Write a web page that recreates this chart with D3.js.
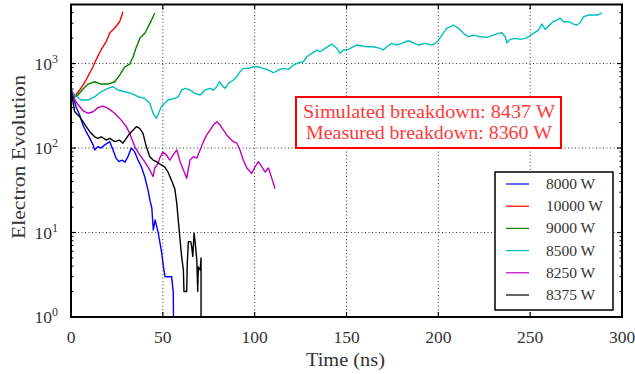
<!DOCTYPE html>
<html>
<head>
<meta charset="utf-8">
<script src="https://cdn.jsdelivr.net/npm/d3@7"></script>
<style>
	body { margin: 0; background: #fff; }
	svg text { font-family: "Liberation Serif", "DejaVu Serif", serif; }
</style>
</head>
<body>
<div id="chart"></div>
<script>
"use strict";

// time (ns) and electron counts
const t8000 = [0, 2.7, 4.7, 6.5, 8.2, 10.2, 12.0, 12.9, 14.7, 16.3, 18.4, 21.1, 22.9, 24.5, 26.1, 27.8, 29.4, 31.0, 32.8, 34.7, 36.5, 38.3, 40.1, 41.9, 43.0, 44.0, 44.8, 45.8, 47.5, 49.4, 50.3, 51.2, 54.8, 55.7, 55.8];
const v8000 = [513, 308, 246, 187, 156, 131, 109, 95, 104, 100, 109, 119, 95, 76, 69, 72, 68, 79, 100, 90, 72, 60, 46, 32, 24, 19.5, 10.7, 14.1, 9.9, 5.7, 3.94, 3.0, 3.0, 1.92, 1];

const t10000 = [0, 2.0, 4.7, 6.5, 8.2, 10.2, 12.0, 13.6, 16.3, 19.1, 21.1, 23.8, 26.5, 28.3];
const v10000 = [486, 405, 486, 557, 638, 772, 917, 1099, 1445, 1811, 2296, 2632, 3126, 4104];

const t9000 = [0, 2.0, 3.8, 6.5, 9.3, 12.9, 16.3, 20.2, 23.8, 26.5, 29.2, 32.0, 33.8, 35.4, 37.6, 40.3, 41.9, 43.6, 45.6];
const v9000 = [486, 405, 424, 499, 572, 609, 572, 572, 609, 731, 910, 987, 1194, 1525, 2004, 2296, 2704, 3184, 3963];

const t8500 = [0, 2.0, 5.6, 9.3, 12.9, 16.5, 20.2, 22.9, 25.6, 29.2, 32.8, 36.5, 40.1, 42.9, 44.7, 46.5, 49.2, 52.8, 56.5, 58.4,
	60.3, 62.1, 64.8, 67.5, 70.3, 73.0, 75.7, 77.5, 79.4, 80.8, 82.1, 83.9, 85.7, 88.4, 90.3, 92.0, 93.8, 96.6, 99.3, 102.0,
	104.7, 107.5, 110.2, 112.9, 115.6, 118.4, 121.1, 123.8, 126.5, 128.4, 131.1, 133.8, 135.6, 138.3, 142.0, 144.7, 146.5, 148.3, 151.0, 153.8,
	155.6, 158.3, 161.1, 164.7, 168.3, 170.1, 171.9, 174.7, 177.4, 180.1, 183.7, 186.4, 189.2, 192.8, 196.5, 199.5, 201.9, 204.6, 208.2, 211.0,
	213.7, 216.4, 219.1, 222.8, 226.4, 230.0, 232.7, 234.6, 236.4, 237.3, 239.1, 241.8, 244.6, 247.3, 249.6, 251.8, 254.5, 256.4, 258.2, 260.0,
	262.4, 264.5, 266.3, 268.1, 270.9, 273.6, 275.4, 277.2, 279.0, 281.8, 284.5, 286.7, 289.0];
const v8500 = [486, 424, 370, 370, 405, 464, 509, 531, 486, 464, 444, 405, 387, 338, 258, 225, 308, 370, 387, 405,
	486, 509, 486, 444, 424, 486, 509, 486, 531, 609, 557, 509, 583, 638, 698, 800, 877, 877, 917, 917,
	877, 838, 778, 838, 877, 853, 960, 1021, 1050, 1203, 1320, 1445, 1380, 1514, 1702, 1514, 1320, 1445, 1472, 1581,
	1656, 1611, 1581, 1581, 1514, 1445, 1581, 1734, 1656, 1734, 1862, 1762, 1656, 1734, 1656, 1811, 2173, 2612, 2858, 2612,
	2277, 2075, 2173, 2075, 2042, 2173, 2277, 2313, 2075, 1762, 1933, 1986, 1933, 1986, 2115, 2277, 2489, 2933, 2540, 2780,
	3126, 3273, 3428, 3126, 3126, 2933, 2858, 3040, 3580, 3750, 3750, 3750, 3990];

const t8250 = [0, 2.2, 4.0, 6.5, 9.3, 12.0, 14.7, 17.4, 20.2, 23.8, 27.4, 30.1, 32.0, 34.7, 37.4, 40.1, 42.9, 44.7, 45.6, 47.4,
	48.3, 50.1, 51.9, 53.8, 55.6, 57.6, 59.4, 61.2, 63.0, 64.8, 66.6, 68.5, 70.3, 72.1, 73.9, 75.7, 77.5, 79.4, 81.2, 83.0,
	84.8, 86.6, 88.4, 90.3, 92.0, 93.8, 95.7, 98.4, 100.2, 102.0, 103.9, 105.7, 107.5, 109.3, 111.1];
const v8250 = [486, 370, 323, 278, 258, 269, 301, 314, 295, 258, 214, 179, 149, 104, 83, 69, 55, 46, 58, 66,
	76, 90, 83, 72, 83, 95, 69, 55, 44, 72, 79, 76, 95, 119, 143, 163, 187, 205, 187, 163,
	143, 130, 119, 114, 95, 72, 58, 50, 60, 69, 60, 52, 58, 44, 33];

const t8375 = [0, 2.0, 4.7, 6.5, 8.3, 10.2, 12.9, 14.7, 16.5, 19.2, 21.1, 23.8, 26.5, 28.3, 30.1, 32.0, 33.8, 35.6, 37.4, 39.2,
	41.0, 42.9, 44.7, 46.5, 49.2, 51.0, 52.8, 54.6, 56.5, 57.6, 58.4, 59.4, 60.3, 61.2, 61.5, 63.0, 63.3, 63.9, 65.2, 65.7,
	66.3, 67.0, 67.5, 68.5, 69.0, 69.3, 70.3, 70.8, 70.8];
const v8375 = [486, 269, 235, 205, 179, 156, 136, 130, 136, 124, 130, 119, 124, 114, 130, 149, 163, 179, 171, 149,
	104, 79, 72, 69, 63, 60, 52, 42, 33, 22, 14, 8.1, 5.0, 3.6, 2.0, 2.0, 4.3, 7.8, 7.8, 6.8,
	5.2, 9.8, 8.1, 4.7, 2.0, 3.9, 3.6, 5.0, 1];

const seriesNames = ["8000 W", "10000 W", "9000 W", "8500 W", "8250 W", "8375 W"];
const seriesColors = ["#0000ff", "#ff0000", "#008000", "#00bfbf", "#bf00bf", "#000000"];
const seriesT = [t8000, t10000, t9000, t8500, t8250, t8375];
const seriesV = [v8000, v10000, v9000, v8500, v8250, v8375];

const xTicks = [0, 50, 100, 150, 200, 250, 300];
const yTicks = [1, 10, 100, 1000];
const noteLines = ["Simulated breakdown: 8437 W", "Measured breakdown: 8360 W"];

const W = 635, H = 374;
const m = { left: 71, right: 13, top: 4.5, bottom: 57 };
const pw = W - m.left - m.right, ph = H - m.top - m.bottom;

const svg = d3.select("#chart").append("svg")
	.attr("width", W)
	.attr("height", H);

const x = d3.scaleLinear().domain([0, 300]).range([m.left, m.left + pw]);
const y = d3.scaleLog().domain([1, 5000]).range([m.top + ph, m.top]);

svg.append("defs").append("clipPath").attr("id", "clip")
	.append("rect")
	.attr("x", m.left).attr("y", m.top)
	.attr("width", pw).attr("height", ph);

// grid
const grid = svg.append("g");
grid.selectAll("line.gx")
	.data(xTicks.slice(1, -1))
	.enter().append("line")
	.attr("x1", d => x(d)).attr("x2", d => x(d))
	.attr("y1", m.top).attr("y2", m.top + ph);
grid.selectAll("line.gy")
	.data(yTicks.slice(1))
	.enter().append("line")
	.attr("x1", m.left).attr("x2", m.left + pw)
	.attr("y1", d => y(d)).attr("y2", d => y(d));
grid.selectAll("line")
	.attr("stroke", "#000")
	.attr("stroke-width", 0.8)
	.attr("stroke-dasharray", "1,2.5");

// series
const line = d3.line()
	.x(d => x(d[0]))
	.y(d => y(d[1]));

const lines = svg.append("g").attr("clip-path", "url(#clip)");
seriesT.forEach((ts, i) => {
	const pts = ts.map((t, j) => [t, seriesV[i][j]]);
	lines.append("path")
		.datum(pts)
		.attr("d", line)
		.attr("fill", "none")
		.attr("stroke", seriesColors[i])
		.attr("stroke-width", 1.4)
		.attr("stroke-linejoin", "round");
});

// ticks (inward, on all sides)
const minor = [];
for (let k = 0; k < 4; k++) {
	for (let j = 2; j <= 9; j++) {
		const v = j * Math.pow(10, k);
		if (v <= 5000) minor.push(v);
	}
}

const axes = svg.append("g").attr("stroke", "#000");
const major = 5, small = 2.5;
xTicks.forEach(d => {
	axes.append("line").attr("x1", x(d)).attr("x2", x(d))
		.attr("y1", m.top + ph).attr("y2", m.top + ph - major).attr("stroke-width", 1.2);
	axes.append("line").attr("x1", x(d)).attr("x2", x(d))
		.attr("y1", m.top).attr("y2", m.top + major).attr("stroke-width", 1.2);
});
yTicks.forEach(d => {
	axes.append("line").attr("y1", y(d)).attr("y2", y(d))
		.attr("x1", m.left).attr("x2", m.left + major).attr("stroke-width", 1.2);
	axes.append("line").attr("y1", y(d)).attr("y2", y(d))
		.attr("x1", m.left + pw).attr("x2", m.left + pw - major).attr("stroke-width", 1.2);
});
minor.forEach(d => {
	axes.append("line").attr("y1", y(d)).attr("y2", y(d))
		.attr("x1", m.left).attr("x2", m.left + small).attr("stroke-width", 1);
	axes.append("line").attr("y1", y(d)).attr("y2", y(d))
		.attr("x1", m.left + pw).attr("x2", m.left + pw - small).attr("stroke-width", 1);
});

// frame
svg.append("rect")
	.attr("x", m.left).attr("y", m.top)
	.attr("width", pw).attr("height", ph)
	.attr("fill", "none")
	.attr("stroke", "#000")
	.attr("stroke-width", 2);

// tick labels
svg.append("g").selectAll("text")
	.data(xTicks)
	.enter().append("text")
	.attr("x", d => x(d))
	.attr("y", m.top + ph + 26)
	.attr("text-anchor", "middle")
	.attr("font-size", 17.5)
	.attr("fill", "#333")
	.text(d => d);

const yl = svg.append("g").selectAll("text")
	.data(yTicks)
	.enter().append("text")
	.attr("x", m.left - 13)
	.attr("y", d => y(d) + 6)
	.attr("text-anchor", "end")
	.attr("font-size", 17.5)
	.attr("fill", "#333");
yl.append("tspan").text("10");
yl.append("tspan")
	.attr("dy", -7)
	.attr("font-size", 12)
	.text(d => Math.round(Math.log10(d)));

// axis titles
svg.append("text")
	.attr("x", 345.5)
	.attr("y", 366)
	.attr("text-anchor", "middle")
	.attr("font-size", 19)
	.attr("textLength", 79)
	.attr("lengthAdjust", "spacingAndGlyphs")
	.attr("fill", "#333")
	.text("Time (ns)");

svg.append("text")
	.attr("transform", "translate(25,157) rotate(-90)")
	.attr("text-anchor", "middle")
	.attr("font-size", 19)
	.attr("textLength", 164)
	.attr("lengthAdjust", "spacingAndGlyphs")
	.attr("fill", "#333")
	.text("Electron Evolution");

// annotation box
const note = svg.append("g");
note.append("rect")
	.attr("x", 296).attr("y", 97)
	.attr("width", 265).attr("height", 51)
	.attr("fill", "#fff")
	.attr("stroke", "#ff0000")
	.attr("stroke-width", 2);
note.selectAll("text")
	.data(noteLines)
	.enter().append("text")
	.attr("x", 429)
	.attr("y", (d, i) => 118 + i * 21)
	.attr("text-anchor", "middle")
	.attr("font-size", 19)
	.attr("textLength", (d, i) => i === 0 ? 252 : 246)
	.attr("lengthAdjust", "spacingAndGlyphs")
	.attr("fill", "#ff3a3a")
	.text(d => d);

// legend
const legend = svg.append("g");
legend.append("rect")
	.attr("x", 495).attr("y", 172)
	.attr("width", 118).attr("height", 138)
	.attr("fill", "#fff")
	.attr("stroke", "#000")
	.attr("stroke-width", 1.5);
seriesNames.forEach((name, i) => {
	const ly = 184 + i * 22.2;
	legend.append("line")
		.attr("x1", 506).attr("x2", 529)
		.attr("y1", ly).attr("y2", ly)
		.attr("stroke", seriesColors[i])
		.attr("stroke-width", 1.2);
	legend.append("text")
		.attr("x", 546).attr("y", ly + 5)
		.attr("font-size", 15.5)
		.attr("fill", "#333")
		.text(name);
});
</script>
</body>
</html>
